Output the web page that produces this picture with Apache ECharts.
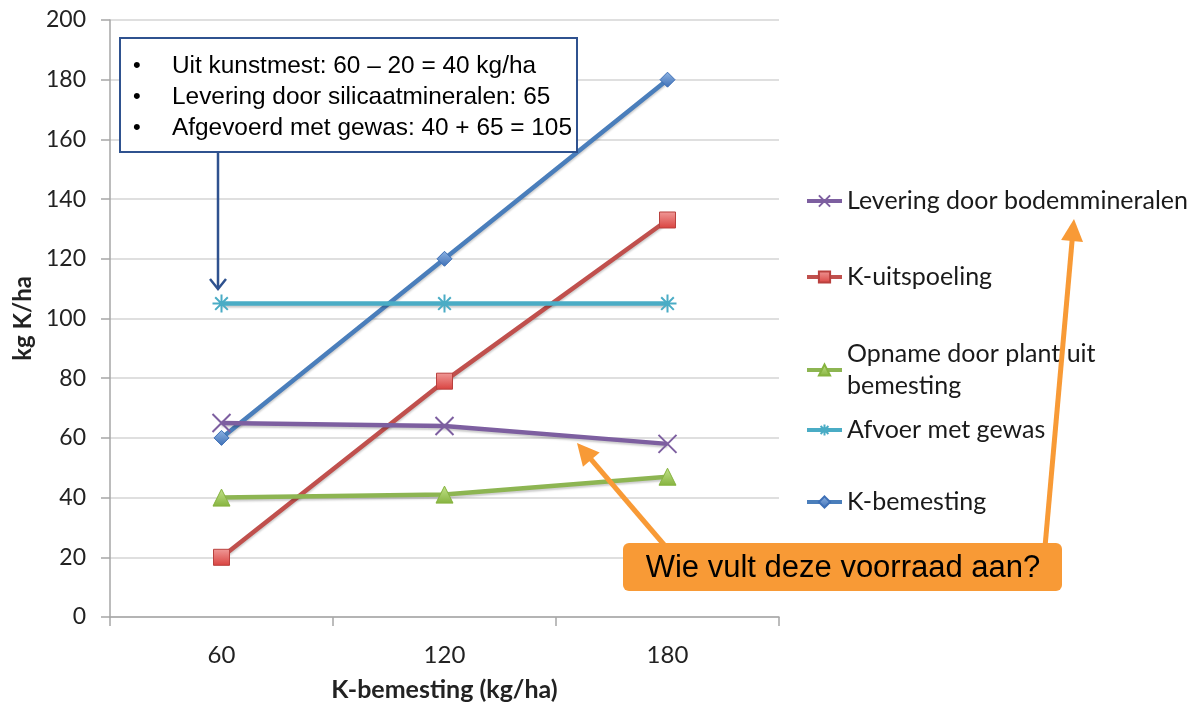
<!DOCTYPE html>
<html><head><meta charset="utf-8">
<script src="https://cdn.jsdelivr.net/npm/echarts@6/dist/echarts.min.js"></script>
<style>html,body{margin:0;padding:0;background:#fff}#c{width:1199px;height:704px}</style>
</head><body><div id="c"></div>
<script>
var categories = ['60', '120', '180'];
var levering = [65, 64, 58];
var uitspoeling = [20, 79, 133];
var opname = [40, 41, 47];
var afvoer = [105, 105, 105];
var bemesting = [60, 120, 180];
var yTicks = {min: 0, max: 200, interval: 20};
var seriesNames = ['Levering door bodemmineralen', 'K-uitspoeling', 'Opname door plant uit bemesting', 'Afvoer met gewas', 'K-bemesting'];
var boxLines = ['Uit kunstmest: 60 \u2013 20 = 40 kg/ha', 'Levering door silicaatmineralen: 65', 'Afgevoerd met gewas: 40 + 65 = 105'];
var calloutText = 'Wie vult deze voorraad aan?';

var chart = echarts.init(document.getElementById('c'));
var LF = 'Lato';
var shadow = {shadowBlur: 2, shadowColor: 'rgba(0,0,0,0.2)', shadowOffsetY: 2};

function lineSeries(name, data, color, symbol, size, itemStyle) {
  return {
    name: name, type: 'line', data: data, symbol: symbol, symbolSize: size,
    lineStyle: Object.assign({color: color, width: 4.5}, shadow),
    itemStyle: itemStyle,
    emphasis: {disabled: true}, animation: false
  };
}

var legendText = {fontFamily: LF, fontSize: 25, color: '#1a1a1a', lineHeight: 30};
function legendAt(name, top, extra) {
  return Object.assign({
    data: [name], left: 805, top: top, orient: 'vertical', padding: 0,
    itemWidth: 35, itemHeight: 14, selectedMode: false,
    lineStyle: {width: 4},
    textStyle: legendText
  }, extra || {});
}

function arrow(tail, tip, color, w, hl, hw) {
  var dx = tip[0] - tail[0], dy = tip[1] - tail[1];
  var L = Math.sqrt(dx * dx + dy * dy), ux = dx / L, uy = dy / L;
  var bx = tip[0] - ux * hl, by = tip[1] - uy * hl;
  return [
    {type: 'line', shape: {x1: tail[0], y1: tail[1], x2: bx + ux * 2, y2: by + uy * 2}, style: {stroke: color, lineWidth: w}, z: 100},
    {type: 'polygon', shape: {points: [[tip[0], tip[1]], [bx - uy * hw, by + ux * hw], [bx + uy * hw, by - ux * hw]]}, style: {fill: color}, z: 100}
  ];
}

var graphics = [];
graphics.push({type: 'rect', shape: {x: 120, y: 38, width: 457, height: 114}, style: {fill: '#fff', stroke: '#2f528f', lineWidth: 2}, z: 90});
boxLines.forEach(function (t, i) {
  var y = 66 + i * 31;
  graphics.push({type: 'text', x: 133, y: y, style: {text: '\u2022', fontFamily: 'Liberation Sans', fontSize: 22, fill: '#000', verticalAlign: 'middle'}, z: 91});
  graphics.push({type: 'text', x: 172, y: y, style: {text: t, fontFamily: 'Liberation Sans', fontSize: 24.4, fill: '#000', verticalAlign: 'middle'}, z: 91});
});
graphics.push({type: 'line', shape: {x1: 218, y1: 152, x2: 218, y2: 288}, style: {stroke: '#2f528f', lineWidth: 2.5}, z: 90});
graphics.push({type: 'polyline', shape: {points: [[210, 279], [218, 289], [226, 279]]}, style: {stroke: '#2f528f', lineWidth: 2.5, fill: null}, z: 90});
var OR = '#f89a36';
graphics = graphics.concat(arrow([666, 547], [577, 443], OR, 5, 22, 11));
graphics = graphics.concat(arrow([1045, 547], [1074, 219], OR, 5, 22, 11));
graphics.push({type: 'rect', shape: {x: 623, y: 543, width: 439, height: 48, r: 6}, style: {fill: OR}, z: 101});
graphics.push({type: 'text', x: 843, y: 568, style: {text: calloutText, fontFamily: 'Liberation Sans', fontSize: 31, fill: '#000', align: 'center', verticalAlign: 'middle'}, z: 102});

var option = {
  backgroundColor: '#fff',
  animation: false,
  grid: {left: 110, right: 420, top: 20, bottom: 87, containLabel: false, outerBoundsMode: 'none'},
  legend: [
    legendAt(seriesNames[0], 186),
    legendAt(seriesNames[1], 262),
    legendAt(seriesNames[2], 338 - 16, {formatter: function () { return 'Opname door plant uit\nbemesting'; }, textStyle: {fontFamily: LF, fontSize: 25, color: '#1a1a1a', lineHeight: 32, padding: [32, 0, 0, 0]}}),
    legendAt(seriesNames[3], 415),
    legendAt(seriesNames[4], 487)
  ],
  xAxis: {
    type: 'category', data: categories, boundaryGap: true,
    name: 'K-bemesting (kg/ha)', nameLocation: 'middle', nameGap: 60,
    nameTextStyle: {fontFamily: LF, fontSize: 25, fontWeight: 'bold', color: '#222'},
    axisLine: {lineStyle: {color: '#a6a6a6', width: 1.5}},
    axisTick: {show: true, alignWithLabel: false, length: 9, lineStyle: {color: '#a6a6a6', width: 1.5}},
    axisLabel: {fontFamily: LF, fontSize: 24, color: '#222', margin: 26}
  },
  yAxis: {
    type: 'value', min: yTicks.min, max: yTicks.max, interval: yTicks.interval,
    name: 'kg K/ha', nameLocation: 'middle', nameGap: 64, nameRotate: 90,
    nameTextStyle: {fontFamily: LF, fontSize: 24, fontWeight: 'bold', color: '#222'},
    axisLine: {show: true, lineStyle: {color: '#a6a6a6', width: 1.5}},
    axisTick: {show: true, length: 9, lineStyle: {color: '#a6a6a6', width: 1.5}},
    axisLabel: {fontFamily: LF, fontSize: 23, color: '#222', margin: 24},
    splitLine: {lineStyle: {color: '#d4d4d4', width: 1.5}}
  },
  series: [
    lineSeries(seriesNames[4], bemesting, '#4a7ebb', 'diamond', 15,
      {color: new echarts.graphic.LinearGradient(0, 0, 0, 1, [{offset: 0, color: '#8fb4e3'}, {offset: 1, color: '#3d6fb6'}]), borderColor: '#3d6fb6', borderWidth: 1}),
    lineSeries(seriesNames[1], uitspoeling, '#c0504d', 'rect', 16,
      {color: new echarts.graphic.LinearGradient(0, 0, 0, 1, [{offset: 0, color: '#f09a98'}, {offset: 1, color: '#d9423f'}]), borderColor: '#b9413e', borderWidth: 1}),
    lineSeries(seriesNames[2], opname, '#8db552', 'triangle', 17,
      {color: new echarts.graphic.LinearGradient(0, 0, 0, 1, [{offset: 0, color: '#c3e38b'}, {offset: 1, color: '#86b33f'}]), borderColor: '#86b33f', borderWidth: 1}),
    lineSeries(seriesNames[3], afvoer, '#4aacc5', 'path://M5,0L5,10M0,5L10,5M1.5,1.5L8.5,8.5M8.5,1.5L1.5,8.5', 18,
      {color: '#4aacc5', borderColor: '#4aacc5', borderWidth: 2}),
    lineSeries(seriesNames[0], levering, '#7d5fa0', 'path://M0,0L10,10M10,0L0,10', 18,
      {color: '#7d5fa0', borderColor: '#7d5fa0', borderWidth: 2})
  ],
  graphic: graphics
};
chart.setOption(option);
</script>
</body></html>
